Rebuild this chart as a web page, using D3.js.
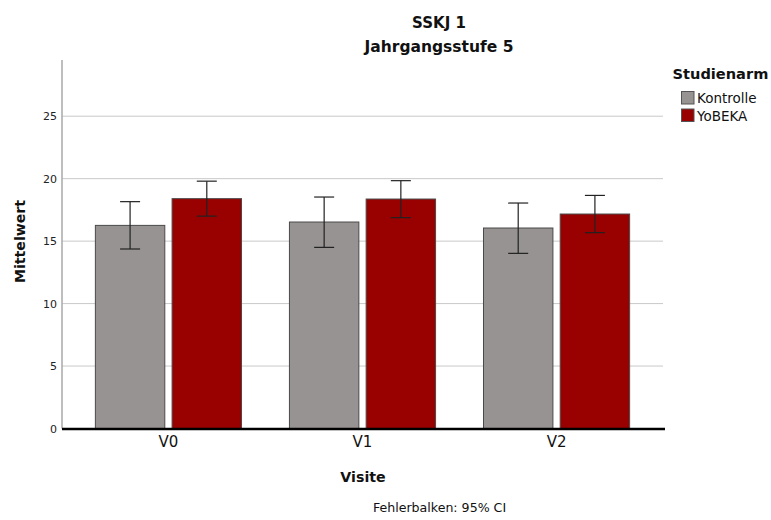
<!DOCTYPE html>
<html>
<head>
<meta charset="utf-8">
<script src="https://cdn.jsdelivr.net/npm/d3@7"></script>
<style>
  html, body { margin: 0; padding: 0; background: #fff; }
  svg { display: block; font-family: "DejaVu Sans", sans-serif; }
</style>
</head>
<body>
<svg id="chart" width="771" height="520"></svg>
<script>
// Visits and study arms
const visits = ["V0", "V1", "V2"];
const groups = ["Kontrolle", "YoBEKA"];

// Means with 95% CI bounds per visit
const kontrolleMean = [16.26, 16.53, 16.05];
const kontrolleLow  = [14.37, 14.50, 14.02];
const kontrolleHigh = [18.16, 18.53, 18.05];
const yobekaMean = [18.40, 18.37, 17.17];
const yobekaLow  = [17.00, 16.88, 15.68];
const yobekaHigh = [19.80, 19.84, 18.66];

const yTicks = [0, 5, 10, 15, 20, 25];
const colors = { "Kontrolle": "#979392", "YoBEKA": "#990000" };

const rows = [];
visits.forEach((v, i) => {
  rows.push({ visit: v, group: "Kontrolle", mean: kontrolleMean[i], lo: kontrolleLow[i], hi: kontrolleHigh[i] });
  rows.push({ visit: v, group: "YoBEKA", mean: yobekaMean[i], lo: yobekaLow[i], hi: yobekaHigh[i] });
});

const svg = d3.select("#chart");
const plot = { left: 62, right: 663, top: 60, bottom: 428.5 };

const y = d3.scaleLinear().domain([0, 29.5]).range([plot.bottom, plot.top]);
const x = d3.scaleBand().domain(visits).range([plot.left, plot.right])
  .paddingInner(0.247).paddingOuter(0.172);
const xi = d3.scaleBand().domain(groups).range([0, x.bandwidth()]).paddingInner(0.095);

// Gridlines
svg.append("g").selectAll("line").data(yTicks.filter(t => t > 0)).join("line")
  .attr("x1", plot.left).attr("x2", plot.right)
  .attr("y1", d => y(d)).attr("y2", d => y(d))
  .attr("stroke", "#c9c9c9").attr("stroke-width", 1);

// Left axis line
svg.append("line")
  .attr("x1", plot.left).attr("x2", plot.left)
  .attr("y1", plot.top).attr("y2", plot.bottom)
  .attr("stroke", "#a8a8a8").attr("stroke-width", 1.5);

// Y tick labels
const yAxis = svg.append("g")
  .attr("transform", `translate(${plot.left - 5},0)`)
  .call(d3.axisLeft(y).tickValues(yTicks).tickSize(0).tickPadding(0));
yAxis.select(".domain").remove();
yAxis.selectAll("text")
  .attr("font-family", "DejaVu Sans").attr("font-size", 11).attr("fill", "#222");

// Bars
svg.append("g").selectAll("rect").data(rows).join("rect")
  .attr("x", d => x(d.visit) + xi(d.group))
  .attr("y", d => y(d.mean))
  .attr("width", xi.bandwidth())
  .attr("height", d => y(0) - y(d.mean))
  .attr("fill", d => colors[d.group])
  .attr("stroke", "#4a4a4a").attr("stroke-width", 1);

// Error bars
const eb = svg.append("g").selectAll("g").data(rows).join("g")
  .attr("transform", d => `translate(${x(d.visit) + xi(d.group) + xi.bandwidth() / 2},0)`);
eb.append("line")
  .attr("y1", d => y(d.lo)).attr("y2", d => y(d.hi))
  .attr("stroke", "#222").attr("stroke-width", 1.2);
eb.selectAll(".cap").data(d => [d.lo, d.hi]).join("line")
  .attr("class", "cap")
  .attr("x1", -10).attr("x2", 10)
  .attr("y1", v => y(v)).attr("y2", v => y(v))
  .attr("stroke", "#222").attr("stroke-width", 1.2);

// Baseline
svg.append("line")
  .attr("x1", plot.left).attr("x2", plot.right + 2)
  .attr("y1", y(0) + 0.5).attr("y2", y(0) + 0.5)
  .attr("stroke", "#000").attr("stroke-width", 2.6);

// X axis labels
const xAxis = svg.append("g")
  .attr("transform", `translate(0,${plot.bottom + 8})`)
  .call(d3.axisBottom(x).tickSize(0).tickPadding(0));
xAxis.select(".domain").remove();
xAxis.selectAll("text")
  .attr("font-family", "DejaVu Sans").attr("font-size", 15).attr("fill", "#111")
  .attr("dy", "0.71em");

// Titles
svg.append("text").attr("x", 439).attr("y", 27.5).attr("text-anchor", "middle")
  .attr("font-weight", "bold").attr("font-size", 15).attr("fill", "#111").text("SSKJ 1");
svg.append("text").attr("x", 439).attr("y", 51.5).attr("text-anchor", "middle")
  .attr("font-weight", "bold").attr("font-size", 15.5).attr("fill", "#111").text("Jahrgangsstufe 5");

// Axis titles
svg.append("text").attr("x", 363).attr("y", 481.5).attr("text-anchor", "middle")
  .attr("font-weight", "bold").attr("font-size", 14.2).attr("fill", "#111").text("Visite");
svg.append("text")
  .attr("transform", "translate(24.5,241.5) rotate(-90)")
  .attr("text-anchor", "middle")
  .attr("font-weight", "bold").attr("font-size", 14.1).attr("fill", "#111").text("Mittelwert");

// Footnote
svg.append("text").attr("x", 439.5).attr("y", 511.5).attr("text-anchor", "middle")
  .attr("font-size", 12.6).attr("fill", "#111").text("Fehlerbalken: 95% CI");

// Legend
const legend = svg.append("g");
legend.append("text").attr("x", 672.5).attr("y", 79)
  .attr("font-weight", "bold").attr("font-size", 14.6).attr("fill", "#111").text("Studienarm");
const items = legend.selectAll("g.item").data(groups).join("g").attr("class", "item")
  .attr("transform", (d, i) => `translate(681,${91 + i * 17.5})`);
items.append("rect").attr("x", 0.5).attr("y", 0.5).attr("width", 12.5).attr("height", 12.5)
  .attr("fill", d => colors[d]).attr("stroke", "#555").attr("stroke-width", 1);
items.append("text").attr("x", 16).attr("y", 12)
  .attr("font-size", 13.5).attr("fill", "#111").text(d => d);
</script>
</body>
</html>
